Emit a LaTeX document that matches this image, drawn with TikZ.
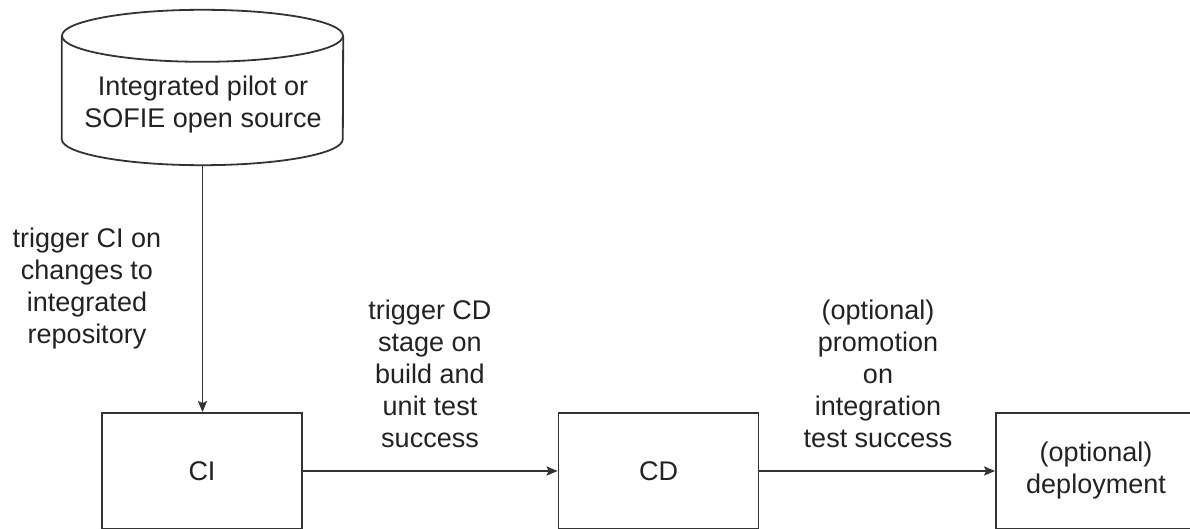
\documentclass[tikz,border=0pt]{standalone}
\usepackage{fontspec}
\setmainfont{Liberation Sans}
\usetikzlibrary{arrows.meta}
\definecolor{linec}{HTML}{333333}
\definecolor{txt}{HTML}{222222}
\begin{document}
\begin{tikzpicture}[x=1pt,y=1pt,
  lw/.style={line width=1.8pt},
  stage/.style={draw=linec, lw, minimum width=200pt, minimum height=116pt,
    inner sep=0pt, text=txt, align=center, font=\fontsize{27}{32}\selectfont},
  lbl/.style={text=txt, align=center, anchor=base, inner sep=0pt,
    font=\fontsize{27}{32}\selectfont},
  flow/.style={draw=linec, lw, -{Stealth[length=11pt,width=9pt,inset=2pt]}}]
\path[use as bounding box] (0,0) rectangle (1190,-529);
\clip (0,0) rectangle (1190,-529);

% source repository (cylinder)
\node[minimum width=281pt, minimum height=155pt, inner sep=0pt] (src) at (202.5,-87.5) {};
\draw[linec, lw] ([yshift=-26pt]src.north west) -- ([yshift=26pt]src.south west)
  arc[start angle=180, end angle=360, x radius=140.5pt, y radius=26pt]
  -- ([yshift=-26pt]src.north east);
\draw[linec, lw] ([yshift=-26pt]src.north) ellipse [x radius=140.5pt, y radius=26pt];
% base anchor of a multi-line node sits on its last line
\node[lbl] (srctext) at (203,-128) {Integrated pilot or\\SOFIE open source};

% pipeline stages
\node[stage] (ci)  at (202,-471)  {CI};
\node[stage] (cd)  at (658.5,-471) {CD};
\node[stage] (dep) at (1096,-471) {(optional)\\deployment};

% connectors
\draw[flow] (src.south) -- (src.south |- ci.north);
\draw[flow] (ci.east) -- (cd.west);
\draw[flow] (cd.east) -- (dep.west);

% connector labels
\node[lbl] (l1) at (87,-343) {trigger CI on\\changes to\\integrated\\repository};
\node[lbl] (l2) at (430,-447) {trigger CD\\stage on\\build and\\unit test\\success};
\node[lbl] (l3) at (878,-447) {(optional)\\promotion\\on\\integration\\test success};
\end{tikzpicture}
\end{document}
